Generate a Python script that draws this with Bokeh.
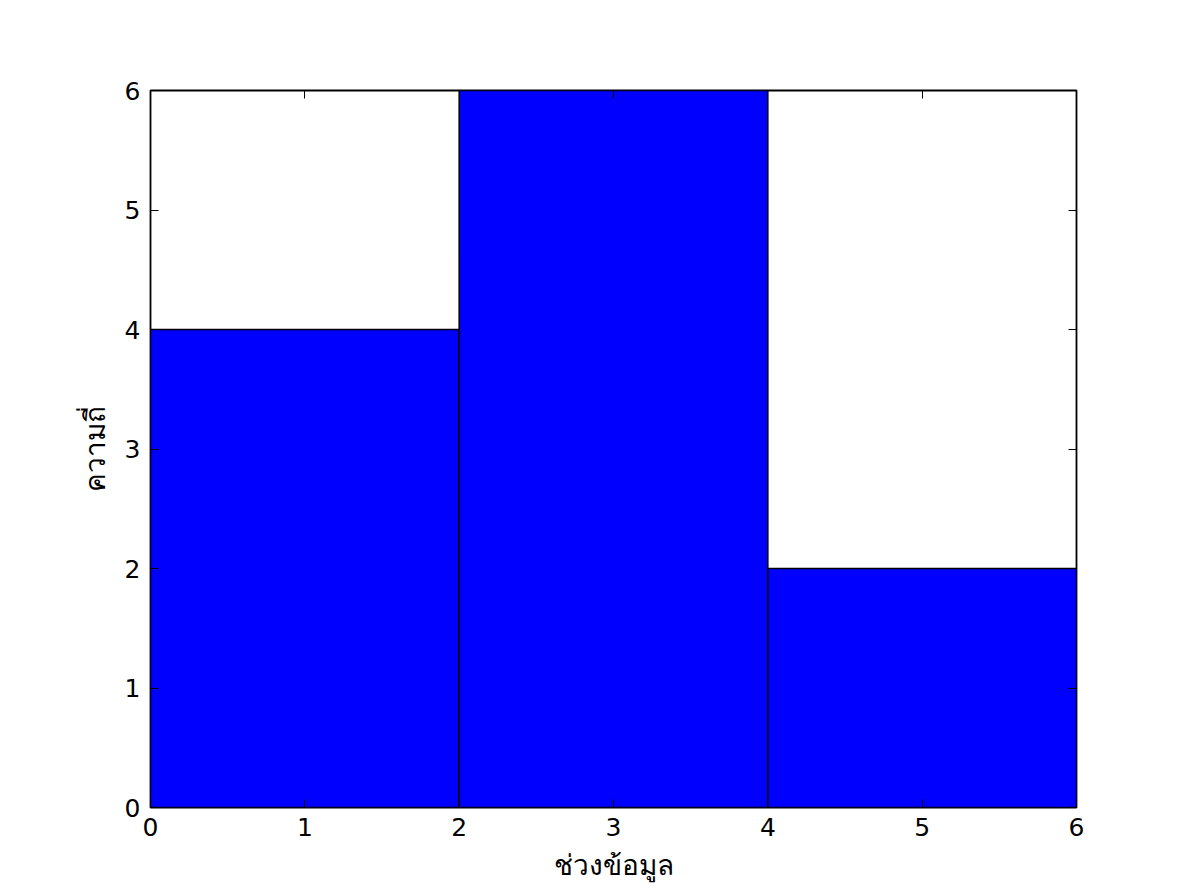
from bokeh.plotting import figure
from bokeh.models import LinearAxis, FixedTicker, Range1d
from bokeh.embed import file_html
from bokeh.resources import INLINE

bin_left = [0, 2, 4]
bin_right = [2, 4, 6]
counts = [4, 6, 2]
x_ticks = [0, 1, 2, 3, 4, 5, 6]
y_ticks = [0, 1, 2, 3, 4, 5, 6]
x_label = "ช่วงข้อมูล"
y_label = "ความถี่"

FONT = "DejaVu Sans"

p = figure(width=1179, height=888, output_backend="svg", toolbar_location=None,
           x_range=Range1d(0, 6), y_range=Range1d(0, 6),
           x_axis_location=None, y_axis_location=None,
           min_border_left=150, min_border_right=103, min_border_top=90, min_border_bottom=81)
p.xgrid.visible = False
p.ygrid.visible = False
p.background_fill_color = "white"
p.border_fill_color = "white"
p.outline_line_color = "black"
p.outline_line_width = 1.8

p.quad(left=bin_left, right=bin_right, bottom=0, top=counts,
       fill_color="#0000ff", line_color="black", line_width=1.5)

def make_axis(side, show_labels, label=None):
    ax = LinearAxis(ticker=FixedTicker(ticks=x_ticks if side in ("below", "above") else y_ticks))
    ax.axis_line_color = None
    ax.major_tick_in = 8
    ax.major_tick_out = 0
    ax.major_tick_line_color = "black"
    ax.major_tick_line_width = 1
    ax.minor_tick_line_color = None
    ax.major_label_text_font = FONT
    ax.major_label_text_font_size = "25px"
    ax.major_label_text_color = "black"
    ax.major_label_standoff = 10
    if not show_labels:
        ax.major_label_text_color = None
        ax.major_label_text_font_size = "1px"
    if label:
        ax.axis_label = label
        ax.axis_label_text_font = FONT
        ax.axis_label_text_font_size = "28px"
        ax.axis_label_text_font_style = "normal"
        ax.axis_label_text_color = "black"
        ax.axis_label_standoff = 10
    p.add_layout(ax, side)
    return ax

make_axis("below", True, x_label)
make_axis("left", True, y_label)
make_axis("above", False)
make_axis("right", False)

open("out.html", "w").write(file_html(p, INLINE))
